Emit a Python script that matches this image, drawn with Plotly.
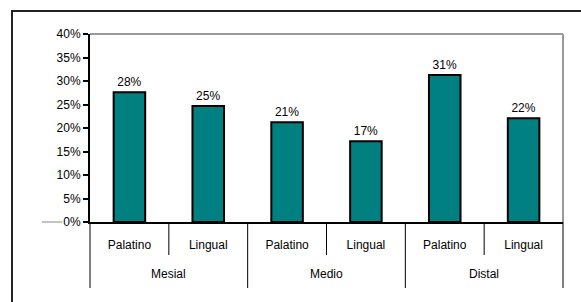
import plotly.graph_objects as go

groups = ["Mesial", "Mesial", "Medio", "Medio", "Distal", "Distal"]
sides = ["Palatino", "Lingual", "Palatino", "Lingual", "Palatino", "Lingual"]
values = [0.276, 0.247, 0.212, 0.172, 0.313, 0.221]
labels = ["28%", "25%", "21%", "17%", "31%", "22%"]
y_ticks = [0, 0.05, 0.10, 0.15, 0.20, 0.25, 0.30, 0.35, 0.40]

keys = [f"{g} {s}" for g, s in zip(groups, sides)]

W, H = 581, 302
L, R, T, B = 90, 18, 34, 80
pw, ph = W - L - R, H - T - B

def px(x):
    return (x - L) / pw

def py(y):
    return (H - B - y) / ph

fnt = dict(family="Liberation Sans, Arial, sans-serif", size=12, color="black")

fig = go.Figure(go.Bar(
    x=keys, y=values, text=labels, textposition="outside",
    textfont=fnt, cliponaxis=False,
    marker=dict(color="#008080", line=dict(color="black", width=2)),
    width=0.4,
))

shapes = [
    dict(type="rect", xref="paper", yref="paper", x0=px(12), x1=px(590),
         y0=py(320), y1=py(11), line=dict(color="#222", width=2), layer="above"),
    dict(type="line", xref="paper", yref="paper", x0=0, x1=1, y0=1, y1=1,
         line=dict(color="#9a9a9a", width=2)),
    dict(type="line", xref="paper", yref="paper", x0=1, x1=1, y0=0, y1=1,
         line=dict(color="#9a9a9a", width=2)),
    dict(type="line", xref="paper", yref="paper", x0=px(42), x1=px(62), y0=0, y1=0,
         line=dict(color="#888", width=1)),
]
n = len(keys)
for k in range(n + 1):
    is_group_edge = k == 0 or k == n or groups[k] != groups[k - 1]
    shapes.append(dict(type="line", xref="paper", yref="paper", x0=k / n, x1=k / n,
                       y0=0, y1=py(288 if is_group_edge else 255),
                       line=dict(color="black", width=1)))

annotations = []
seen = []
for g in groups:
    if g not in seen:
        seen.append(g)
for g in seen:
    idx = [i for i, gg in enumerate(groups) if gg == g]
    annotations.append(dict(x=sum(idx) / len(idx), y=py(274), xref="x", yref="paper",
                            text=g, showarrow=False, font=fnt,
                            xanchor="center", yanchor="middle"))

fig.update_layout(
    width=W, height=H, margin=dict(l=L, r=R, t=T, b=B),
    paper_bgcolor="white", plot_bgcolor="white", showlegend=False,
    font=fnt, shapes=shapes, annotations=annotations,
    xaxis=dict(type="category", tickvals=keys, ticktext=sides,
               showline=True, linecolor="black", linewidth=2,
               ticks="", tickfont=fnt, ticklabelstandoff=11, range=[-0.5, n - 0.5]),
    yaxis=dict(range=[0, 0.40], tickvals=y_ticks, tickformat=".0%",
               showline=True, linecolor="black", linewidth=2, ticks="outside",
               ticklen=5, tickwidth=1.5, tickcolor="black", showgrid=False,
               zeroline=False, tickfont=fnt),
)

fig.write_html("out.html", config={"displayModeBar": False},
               post_script="document.body.style.margin='0';")
